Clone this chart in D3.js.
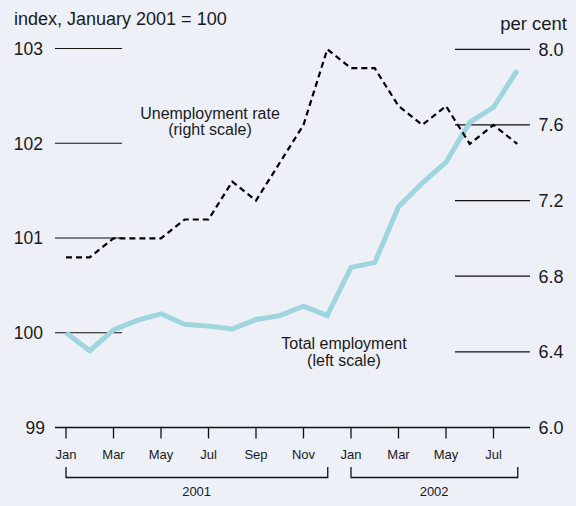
<!DOCTYPE html>
<html>
<head>
<meta charset="utf-8">
<script src="https://cdn.jsdelivr.net/npm/d3@7"></script>
<style>
  body { margin: 0; background: #edf0f7; }
  svg { display: block; font-family: "Liberation Sans", Arial, sans-serif; }
</style>
</head>
<body>
<svg width="576" height="506"></svg>
<script>
const months = ["Jan", "Feb", "Mar", "Apr", "May", "Jun", "Jul", "Aug", "Sep", "Oct", "Nov", "Dec",
  "Jan", "Feb", "Mar", "Apr", "May", "Jun", "Jul", "Aug"];
const employment = [100.0, 99.81, 100.03, 100.13, 100.2, 100.09, 100.07, 100.04, 100.14, 100.18,
  100.28, 100.18, 100.69, 100.74, 101.33, 101.58, 101.8, 102.22, 102.38, 102.77];
const unemployment = [6.9, 6.9, 7.0, 7.0, 7.0, 7.1, 7.1, 7.3, 7.2, 7.4,
  7.6, 8.0, 7.9, 7.9, 7.7, 7.6, 7.7, 7.5, 7.6, 7.5];
const leftTicks = [99, 100, 101, 102, 103];
const rightTicks = [6.0, 6.4, 6.8, 7.2, 7.6, 8.0];
const years = [{ label: "2001", from: 0, to: 11 }, { label: "2002", from: 12, to: 19 }];

(function () {
  const svg = d3.select("svg");
  const ink = "#1a1a1a";

  const x = d3.scaleLinear().domain([0, 19]).range([66, 517.25]);
  const yL = d3.scaleLinear().domain([99, 103]).range([427.5, 48.5]);
  const yR = d3.scaleLinear().domain([6.0, 8.0]).range([427.5, 49.3]);

  // left scale tick lines
  const lt = svg.append("g");
  lt.selectAll("line")
    .data(leftTicks.filter((d) => d !== 99))
    .join("line")
    .attr("x1", 55).attr("x2", 122)
    .attr("y1", (d) => yL(d)).attr("y2", (d) => yL(d))
    .attr("stroke", "#111").attr("stroke-width", 1.2);
  lt.selectAll("text")
    .data(leftTicks)
    .join("text")
    .attr("x", (d) => (d === 99 ? 45 : 43))
    .attr("y", (d) => yL(d))
    .attr("dy", "0.36em")
    .attr("text-anchor", "end")
    .attr("font-size", 17.5)
    .attr("fill", ink)
    .text((d) => d);

  // right scale tick lines
  const rt = svg.append("g");
  rt.selectAll("line")
    .data(rightTicks.filter((d) => d !== 6.0))
    .join("line")
    .attr("x1", 455).attr("x2", 530)
    .attr("y1", (d) => yR(d)).attr("y2", (d) => yR(d))
    .attr("stroke", "#111").attr("stroke-width", 1.2);
  rt.selectAll("text")
    .data(rightTicks)
    .join("text")
    .attr("x", 538.5)
    .attr("y", (d) => yR(d))
    .attr("dy", "0.36em")
    .attr("font-size", 18)
    .attr("fill", ink)
    .text((d) => d.toFixed(1));

  // x axis
  svg.append("line")
    .attr("x1", 55).attr("x2", 530)
    .attr("y1", yL(99)).attr("y2", yL(99))
    .attr("stroke", "#111").attr("stroke-width", 1.3);

  const tickIdx = d3.range(0, 20, 2);
  svg.append("g").selectAll("line")
    .data(tickIdx)
    .join("line")
    .attr("x1", (d) => x(d)).attr("x2", (d) => x(d))
    .attr("y1", yL(99)).attr("y2", yL(99) + 11)
    .attr("stroke", "#111").attr("stroke-width", 1.3);
  svg.append("g").selectAll("text")
    .data(tickIdx)
    .join("text")
    .attr("x", (d) => x(d))
    .attr("y", 458.5)
    .attr("text-anchor", "middle")
    .attr("font-size", 13)
    .attr("fill", ink)
    .text((d) => months[d]);

  // year brackets
  const yb = svg.append("g");
  yb.selectAll("path")
    .data(years)
    .join("path")
    .attr("d", (d) => `M${x(d.from)},467V477.5H${x(d.to) + 0.5}V467`)
    .attr("fill", "none")
    .attr("stroke", "#111").attr("stroke-width", 1.3);
  yb.selectAll("text")
    .data(years)
    .join("text")
    .attr("x", (d) => (x(d.from) + x(d.to)) / 2)
    .attr("y", 495.5)
    .attr("text-anchor", "middle")
    .attr("font-size", 13)
    .attr("fill", ink)
    .text((d) => d.label);

  // series
  svg.append("path")
    .datum(employment)
    .attr("fill", "none")
    .attr("stroke", "#9fd5df")
    .attr("stroke-width", 5)
    .attr("stroke-linejoin", "miter")
    .attr("d", d3.line().x((d, i) => x(i)).y((d) => yL(d)));

  svg.append("path")
    .datum(unemployment)
    .attr("fill", "none")
    .attr("stroke", "#000")
    .attr("stroke-width", 2.2)
    .attr("stroke-dasharray", "6,4")
    .attr("d", d3.line().x((d, i) => x(i)).y((d) => yR(d)));

  // titles and labels
  svg.append("text")
    .attr("x", 14).attr("y", 25)
    .attr("font-size", 18).attr("fill", ink)
    .text("index, January 2001 = 100");
  svg.append("text")
    .attr("x", 567).attr("y", 30)
    .attr("text-anchor", "end")
    .attr("font-size", 18.5).attr("fill", ink)
    .text("per cent");

  const notes = [
    { lines: ["Unemployment rate", "(right scale)"], x: 210, y: 118.5 },
    { lines: ["Total employment", "(left scale)"], x: 344, y: 349 },
  ];
  notes.forEach((n) => {
    svg.append("text")
      .attr("text-anchor", "middle")
      .attr("font-size", 16).attr("fill", ink)
      .selectAll("tspan")
      .data(n.lines)
      .join("tspan")
      .attr("x", n.x)
      .attr("y", (d, i) => n.y + i * 16.5)
      .text((d) => d);
  });
})();
</script>
</body>
</html>
